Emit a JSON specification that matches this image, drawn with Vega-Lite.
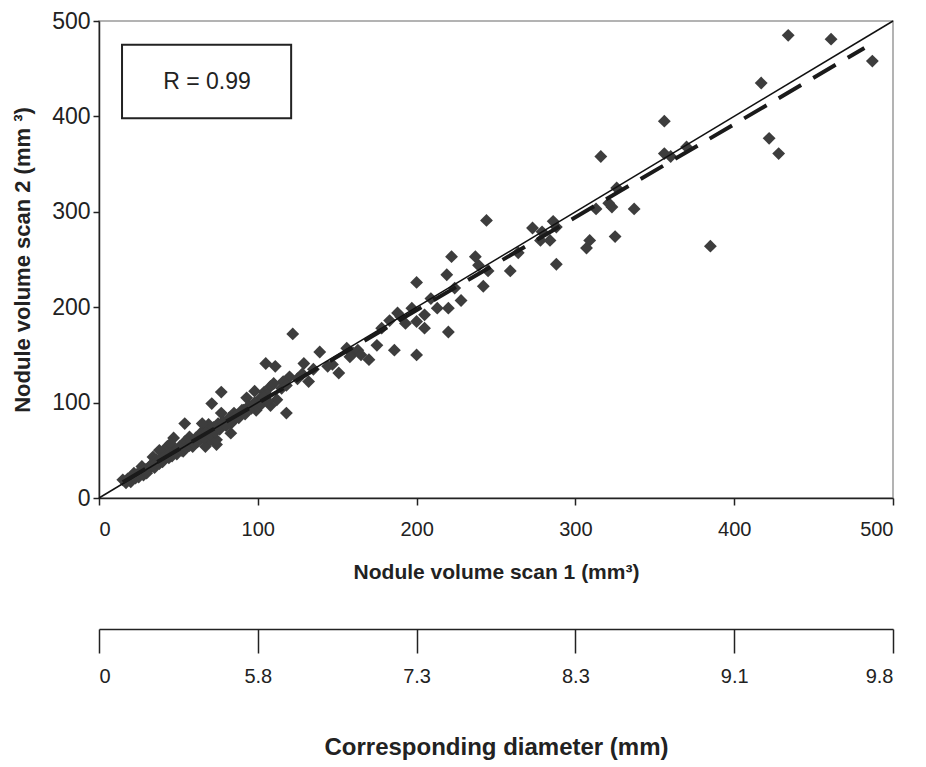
{
  "$schema": "https://vega.github.io/schema/vega-lite/v6.json",
  "width": 794,
  "height": 477,
  "autosize": {"type": "none"},
  "padding": {"left": 99, "top": 21, "right": 33, "bottom": 269},
  "background": "white",
  "config": {
    "font": "Liberation Sans",
    "view": {"stroke": "#9a9a9a", "strokeWidth": 1.5},
    "axis": {
      "grid": false,
      "domainColor": "#222222",
      "domainWidth": 1.5,
      "tickColor": "#222222",
      "tickWidth": 1.5,
      "labelColor": "#222222",
      "titleColor": "#222222",
      "labelFont": "Liberation Sans",
      "titleFont": "Liberation Sans"
    }
  },
  "datasets": {
    "scans": [
      {"scan1": 434, "scan2": 485}, {"scan1": 461, "scan2": 481}, {"scan1": 487, "scan2": 458}, {"scan1": 417, "scan2": 435},
      {"scan1": 356, "scan2": 395}, {"scan1": 422, "scan2": 377}, {"scan1": 428, "scan2": 361}, {"scan1": 316, "scan2": 358},
      {"scan1": 356, "scan2": 361}, {"scan1": 360, "scan2": 358}, {"scan1": 370, "scan2": 368}, {"scan1": 326, "scan2": 325},
      {"scan1": 323, "scan2": 305}, {"scan1": 321, "scan2": 309}, {"scan1": 313, "scan2": 303}, {"scan1": 337, "scan2": 303},
      {"scan1": 325, "scan2": 274}, {"scan1": 309, "scan2": 270}, {"scan1": 307, "scan2": 262}, {"scan1": 385, "scan2": 264},
      {"scan1": 288, "scan2": 245}, {"scan1": 286, "scan2": 290}, {"scan1": 273, "scan2": 283}, {"scan1": 279, "scan2": 279},
      {"scan1": 278, "scan2": 270}, {"scan1": 284, "scan2": 270}, {"scan1": 288, "scan2": 284}, {"scan1": 264, "scan2": 257},
      {"scan1": 259, "scan2": 238}, {"scan1": 244, "scan2": 291}, {"scan1": 237, "scan2": 253}, {"scan1": 222, "scan2": 253},
      {"scan1": 219, "scan2": 234}, {"scan1": 242, "scan2": 222}, {"scan1": 245, "scan2": 238}, {"scan1": 239, "scan2": 244},
      {"scan1": 228, "scan2": 207}, {"scan1": 224, "scan2": 220}, {"scan1": 209, "scan2": 209}, {"scan1": 213, "scan2": 199},
      {"scan1": 220, "scan2": 199}, {"scan1": 200, "scan2": 226}, {"scan1": 205, "scan2": 192}, {"scan1": 197, "scan2": 199},
      {"scan1": 188, "scan2": 194}, {"scan1": 200, "scan2": 150}, {"scan1": 220, "scan2": 174}, {"scan1": 186, "scan2": 155},
      {"scan1": 175, "scan2": 160}, {"scan1": 170, "scan2": 145}, {"scan1": 178, "scan2": 178}, {"scan1": 193, "scan2": 183},
      {"scan1": 200, "scan2": 185}, {"scan1": 205, "scan2": 178}, {"scan1": 190, "scan2": 190}, {"scan1": 183, "scan2": 186},
      {"scan1": 160, "scan2": 152}, {"scan1": 158, "scan2": 148}, {"scan1": 163, "scan2": 155}, {"scan1": 156, "scan2": 157},
      {"scan1": 165, "scan2": 150}, {"scan1": 151, "scan2": 131}, {"scan1": 139, "scan2": 153}, {"scan1": 144, "scan2": 138},
      {"scan1": 129, "scan2": 141}, {"scan1": 132, "scan2": 122}, {"scan1": 135, "scan2": 135}, {"scan1": 147, "scan2": 140},
      {"scan1": 122, "scan2": 172}, {"scan1": 118, "scan2": 89}, {"scan1": 120, "scan2": 127}, {"scan1": 116, "scan2": 122},
      {"scan1": 125, "scan2": 125}, {"scan1": 128, "scan2": 130}, {"scan1": 105, "scan2": 141}, {"scan1": 111, "scan2": 138},
      {"scan1": 112, "scan2": 103}, {"scan1": 108, "scan2": 117}, {"scan1": 104, "scan2": 111}, {"scan1": 110, "scan2": 120},
      {"scan1": 115, "scan2": 115}, {"scan1": 118, "scan2": 118}, {"scan1": 100, "scan2": 100}, {"scan1": 102, "scan2": 105},
      {"scan1": 106, "scan2": 108}, {"scan1": 98, "scan2": 112}, {"scan1": 108, "scan2": 97}, {"scan1": 93, "scan2": 105},
      {"scan1": 95, "scan2": 96}, {"scan1": 99, "scan2": 92}, {"scan1": 87, "scan2": 87}, {"scan1": 77, "scan2": 111},
      {"scan1": 71, "scan2": 99}, {"scan1": 54, "scan2": 78}, {"scan1": 74, "scan2": 56}, {"scan1": 67, "scan2": 54},
      {"scan1": 80, "scan2": 77}, {"scan1": 67, "scan2": 71}, {"scan1": 64, "scan2": 68}, {"scan1": 47, "scan2": 63},
      {"scan1": 41, "scan2": 45}, {"scan1": 34, "scan2": 43}, {"scan1": 27, "scan2": 33}, {"scan1": 15, "scan2": 19},
      {"scan1": 22, "scan2": 26}, {"scan1": 20, "scan2": 17}, {"scan1": 28, "scan2": 24}, {"scan1": 31, "scan2": 29},
      {"scan1": 43, "scan2": 54}, {"scan1": 51, "scan2": 54}, {"scan1": 57, "scan2": 64}, {"scan1": 59, "scan2": 54},
      {"scan1": 70, "scan2": 61}, {"scan1": 83, "scan2": 68}, {"scan1": 85, "scan2": 89}, {"scan1": 91, "scan2": 92},
      {"scan1": 83, "scan2": 78}, {"scan1": 63, "scan2": 64}, {"scan1": 54, "scan2": 59}, {"scan1": 45, "scan2": 57},
      {"scan1": 38, "scan2": 50}, {"scan1": 36, "scan2": 40}, {"scan1": 47, "scan2": 49}, {"scan1": 53, "scan2": 49},
      {"scan1": 74, "scan2": 61}, {"scan1": 77, "scan2": 89}, {"scan1": 69, "scan2": 77}, {"scan1": 65, "scan2": 78},
      {"scan1": 17, "scan2": 16}, {"scan1": 18, "scan2": 20}, {"scan1": 20, "scan2": 22}, {"scan1": 23, "scan2": 21},
      {"scan1": 24, "scan2": 25}, {"scan1": 26, "scan2": 27}, {"scan1": 25, "scan2": 22}, {"scan1": 29, "scan2": 30},
      {"scan1": 30, "scan2": 26}, {"scan1": 32, "scan2": 33}, {"scan1": 33, "scan2": 35}, {"scan1": 35, "scan2": 32},
      {"scan1": 36, "scan2": 37}, {"scan1": 38, "scan2": 36}, {"scan1": 39, "scan2": 41}, {"scan1": 40, "scan2": 38},
      {"scan1": 42, "scan2": 44}, {"scan1": 44, "scan2": 42}, {"scan1": 45, "scan2": 47}, {"scan1": 46, "scan2": 44},
      {"scan1": 48, "scan2": 50}, {"scan1": 49, "scan2": 46}, {"scan1": 50, "scan2": 52}, {"scan1": 52, "scan2": 50},
      {"scan1": 53, "scan2": 55}, {"scan1": 55, "scan2": 53}, {"scan1": 56, "scan2": 58}, {"scan1": 57, "scan2": 55},
      {"scan1": 58, "scan2": 60}, {"scan1": 60, "scan2": 57}, {"scan1": 61, "scan2": 63}, {"scan1": 62, "scan2": 59},
      {"scan1": 64, "scan2": 62}, {"scan1": 65, "scan2": 67}, {"scan1": 66, "scan2": 63}, {"scan1": 68, "scan2": 70},
      {"scan1": 70, "scan2": 66}, {"scan1": 72, "scan2": 74}, {"scan1": 73, "scan2": 69}, {"scan1": 75, "scan2": 78},
      {"scan1": 76, "scan2": 72}, {"scan1": 78, "scan2": 80}, {"scan1": 80, "scan2": 76}, {"scan1": 82, "scan2": 84},
      {"scan1": 84, "scan2": 80}, {"scan1": 86, "scan2": 86}, {"scan1": 88, "scan2": 84}, {"scan1": 90, "scan2": 92},
      {"scan1": 92, "scan2": 88}, {"scan1": 94, "scan2": 96}, {"scan1": 96, "scan2": 94}, {"scan1": 98, "scan2": 100},
      {"scan1": 100, "scan2": 96}, {"scan1": 102, "scan2": 98}, {"scan1": 104, "scan2": 106}, {"scan1": 106, "scan2": 102}
    ],
    "identity": [{"scan1": 0, "scan2": 0}, {"scan1": 500, "scan2": 500}],
    "fit": [{"scan1": 15, "scan2": 16.6}, {"scan1": 482, "scan2": 471.7}],
    "box": [{"x1": 14.5, "x2": 121, "y1": 398, "y2": 475, "tx": 68, "ty": 436, "label": "R = 0.99"}],
    "diam": [
      {"vol": 0, "diameter": "0"}, {"vol": 100, "diameter": "5.8"}, {"vol": 200, "diameter": "7.3"},
      {"vol": 300, "diameter": "8.3"}, {"vol": 400, "diameter": "9.1"}, {"vol": 500, "diameter": "9.8"}
    ]
  },
  "layer": [
    {
      "layer": [
        {
          "data": {"name": "scans"},
          "mark": {"type": "point", "shape": "diamond", "filled": true, "size": 165, "color": "#3d3d3d", "opacity": 1},
          "encoding": {
            "x": {
              "field": "scan1", "type": "quantitative",
              "scale": {"domain": [0, 500], "nice": false},
              "axis": {"title": "Nodule volume scan 1 (mm³)", "values": [0, 100, 200, 300, 400, 500], "tickSize": 7, "labelFontSize": 20, "labelPadding": 14, "titleFontSize": 21, "titleFontWeight": "bold", "titlePadding": 22}
            },
            "y": {
              "field": "scan2", "type": "quantitative",
              "scale": {"domain": [0, 500], "nice": false},
              "axis": {"title": "Nodule volume scan 2 (mm ³)", "values": [0, 100, 200, 300, 400, 500], "tickSize": 6, "labelFontSize": 23, "labelPadding": 3, "titleFontSize": 22, "titleFontWeight": "bold", "titlePadding": 17}
            }
          }
        },
        {
          "data": {"name": "identity"},
          "mark": {"type": "line", "color": "#111111", "strokeWidth": 1.5},
          "encoding": {
            "x": {"field": "scan1", "type": "quantitative"},
            "y": {"field": "scan2", "type": "quantitative"}
          }
        },
        {
          "data": {"name": "fit"},
          "mark": {"type": "line", "color": "#1a1a1a", "strokeWidth": 4, "strokeDash": [26, 14]},
          "encoding": {
            "x": {"field": "scan1", "type": "quantitative"},
            "y": {"field": "scan2", "type": "quantitative"}
          }
        },
        {
          "data": {"name": "box"},
          "mark": {"type": "rect", "fill": "white", "stroke": "#222222", "strokeWidth": 2},
          "encoding": {
            "x": {"field": "x1", "type": "quantitative"},
            "x2": {"field": "x2"},
            "y": {"field": "y1", "type": "quantitative"},
            "y2": {"field": "y2"}
          }
        },
        {
          "data": {"name": "box"},
          "mark": {"type": "text", "fontSize": 23, "color": "#222222", "font": "Liberation Sans"},
          "encoding": {
            "x": {"field": "tx", "type": "quantitative"},
            "y": {"field": "ty", "type": "quantitative"},
            "text": {"field": "label"}
          }
        }
      ]
    },
    {
      "data": {"name": "diam"},
      "mark": {"type": "point", "opacity": 0},
      "encoding": {
        "x": {
          "field": "vol", "type": "quantitative",
          "scale": {"domain": [0, 500], "nice": false},
          "axis": {
            "orient": "bottom", "offset": 131, "title": "Corresponding diameter (mm)",
            "values": [0, 100, 200, 300, 400, 500],
            "labelExpr": "datum.value == 0 ? '0' : datum.value == 100 ? '5.8' : datum.value == 200 ? '7.3' : datum.value == 300 ? '8.3' : datum.value == 400 ? '9.1' : '9.8'",
            "tickSize": 24, "labelFontSize": 20, "labelPadding": 13,
            "titleFontSize": 24, "titleFontWeight": "bold", "titlePadding": 49
          }
        }
      }
    }
  ],
  "resolve": {"scale": {"x": "independent"}}
}
